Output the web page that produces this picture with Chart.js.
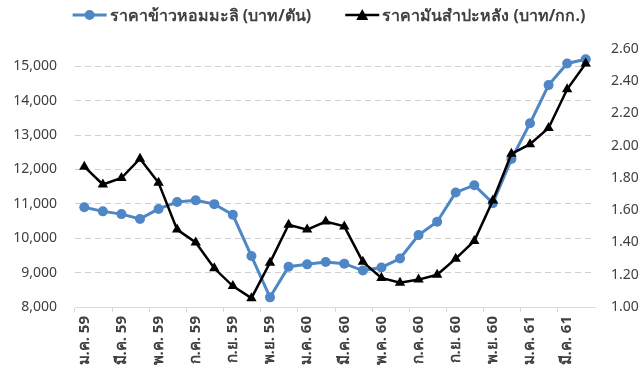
<!DOCTYPE html>
<html>
<head>
<meta charset="utf-8">
<script src="https://cdn.jsdelivr.net/npm/chart.js@4/dist/chart.umd.min.js"></script>
<style>
  body { margin: 0; background: #fff; }
  #wrap { width: 644px; height: 378px; }
</style>
</head>
<body>
<div id="wrap"><canvas id="priceChart" width="644" height="378"></canvas></div>
<script>
const months = [
    'ม.ค. 59', 'ก.พ. 59', 'มี.ค. 59', 'เม.ย. 59', 'พ.ค. 59', 'มิ.ย. 59', 'ก.ค. 59', 'ส.ค. 59', 'ก.ย. 59', 'ต.ค. 59', 'พ.ย. 59', 'ธ.ค. 59',
    'ม.ค. 60', 'ก.พ. 60', 'มี.ค. 60', 'เม.ย. 60', 'พ.ค. 60', 'มิ.ย. 60', 'ก.ค. 60', 'ส.ค. 60', 'ก.ย. 60', 'ต.ค. 60', 'พ.ย. 60', 'ธ.ค. 60',
    'ม.ค. 61', 'ก.พ. 61', 'มี.ค. 61', 'เม.ย. 61'
];
const riceLabel = 'ราคาข้าวหอมมะลิ (บาท/ตัน)';
const cassavaLabel = 'ราคามันสำปะหลัง (บาท/กก.)';
const ricePrice = [10900, 10780, 10700, 10560, 10850, 11050, 11100, 10990, 10680, 9480, 8280, 9170,
    9240, 9310, 9260, 9060, 9150, 9410, 10090, 10480, 11330, 11540, 11020, 12300,
    13340, 14450, 15080, 15200];
const cassavaPrice = [1.87, 1.76, 1.80, 1.92, 1.77, 1.48, 1.40, 1.24, 1.13, 1.055, 1.275, 1.51,
    1.48, 1.53, 1.50, 1.28, 1.18, 1.15, 1.17, 1.20, 1.30, 1.41, 1.66, 1.95,
    2.01, 2.11, 2.35, 2.51];
const riceTicks = [8000, 9000, 10000, 11000, 12000, 13000, 14000, 15000];
const cassavaTicks = [1.0, 1.2, 1.4, 1.6, 1.8, 2.0, 2.2, 2.4, 2.6];

const blue = '#4f86c6';
const textColor = '#404040';
const fontFamily = "'Noto Sans', 'DejaVu Sans', sans-serif";

// Excel style legend: short line with the marker in the middle, then the text
const lineLegend = {
    id: 'lineLegend',
    afterDraw(chart) {
        const c = chart.ctx;
        const sets = chart.data.datasets;
        c.save();
        c.font = 'bold 16px ' + fontFamily;
        c.textBaseline = 'middle';
        const swatchW = 34, textGap = 3, itemGap = 34, y = 15;
        const widths = sets.map(ds => c.measureText(ds.label).width);
        let total = widths.reduce((a, w) => a + swatchW + textGap + w, 0) + itemGap * (sets.length - 1);
        let x = 329 - total / 2;
        sets.forEach((ds, i) => {
            c.strokeStyle = ds.borderColor;
            c.fillStyle = ds.borderColor;
            c.lineWidth = ds.borderWidth;
            c.beginPath(); c.moveTo(x, y); c.lineTo(x + swatchW, y); c.stroke();
            const mx = x + swatchW / 2;
            c.beginPath();
            if (ds.pointStyle === 'circle') {
                c.arc(mx, y, 5, 0, Math.PI * 2);
            } else {
                c.moveTo(mx, y - 6); c.lineTo(mx + 6, y + 5); c.lineTo(mx - 6, y + 5); c.closePath();
            }
            c.fill();
            c.fillStyle = textColor;
            c.fillText(ds.label, x + swatchW + textGap, y + 1);
            x += swatchW + textGap + widths[i] + itemGap;
        });
        c.restore();
    }
};

const ctx = document.getElementById('priceChart').getContext('2d');
new Chart(ctx, {
    type: 'line',
    data: {
        labels: months,
        datasets: [{
            label: riceLabel,
            data: ricePrice,
            yAxisID: 'y',
            borderColor: blue,
            backgroundColor: blue,
            borderWidth: 3,
            pointStyle: 'circle',
            pointRadius: 5,
            pointBorderWidth: 0,
            tension: 0,
            order: 1
        }, {
            label: cassavaLabel,
            data: cassavaPrice,
            yAxisID: 'y1',
            borderColor: '#000',
            backgroundColor: '#000',
            borderWidth: 2.5,
            pointStyle: 'triangle',
            pointRadius: 6,
            pointBorderWidth: 0,
            tension: 0,
            order: 0
        }]
    },
    plugins: [lineLegend],
    options: {
        responsive: false,
        animation: false,
        devicePixelRatio: 1,
        layout: { padding: { left: 4, right: 2, top: 49, bottom: 2 } },
        plugins: {
            tooltip: { enabled: false },
            legend: { display: false }
        },
        scales: {
            x: {
                offset: true,
                afterFit: s => { s.height = 69; },
                border: { display: true, color: '#d9d9d9', width: 1 },
                grid: {
                    offset: true,
                    drawOnChartArea: false,
                    drawTicks: true,
                    tickLength: 5,
                    color: c => (c.index % 2 === 0 ? '#d9d9d9' : 'rgba(0,0,0,0)')
                },
                ticks: {
                    autoSkip: false,
                    minRotation: 90,
                    maxRotation: 90,
                    padding: 4,
                    color: textColor,
                    font: { family: fontFamily, size: 15, weight: 'bold' },
                    callback: function(value, index) {
                        return index % 2 === 0 ? this.getLabelForValue(value) : '';
                    }
                }
            },
            y: {
                position: 'left',
                min: 8000,
                max: 15500,
                afterBuildTicks: s => { s.ticks = riceTicks.map(v => ({ value: v })); },
                afterFit: s => { s.width = 71; },
                border: { display: false, dash: [6, 4] },
                grid: {
                    color: c => (c.tick && c.tick.value === 8000 ? 'rgba(0,0,0,0)' : '#cfcfcf'),
                    lineWidth: 1,
                    drawTicks: false
                },
                ticks: {
                    padding: 18,
                    color: textColor,
                    font: { family: fontFamily, size: 14 },
                    callback: v => v.toLocaleString('en-US')
                }
            },
            y1: {
                position: 'right',
                min: 1.0,
                max: 2.6,
                afterBuildTicks: s => { s.ticks = cassavaTicks.map(v => ({ value: v })); },
                afterFit: s => { s.width = 47; },
                border: { display: false },
                grid: { display: false, drawOnChartArea: false, drawTicks: false },
                ticks: {
                    padding: 16,
                    color: textColor,
                    font: { family: fontFamily, size: 14 },
                    callback: v => v.toFixed(2)
                }
            }
        }
    }
});
</script>
</body>
</html>
